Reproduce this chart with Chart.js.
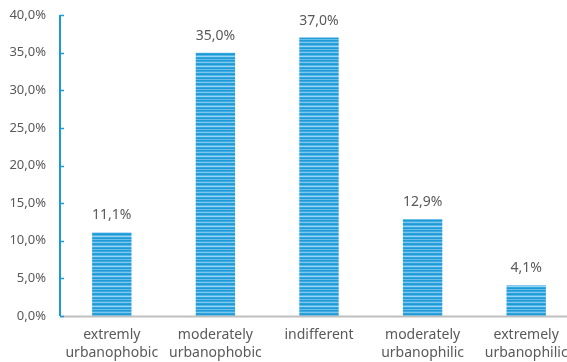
<!DOCTYPE html>
<html>
<head>
<meta charset="utf-8">
<script src="https://cdn.jsdelivr.net/npm/chart.js@4/dist/chart.umd.min.js"></script>
<style>
  html, body { margin: 0; padding: 0; background: #fff; overflow: hidden; }
  #wrap { width: 578px; height: 362px; position: relative; }
</style>
</head>
<body>
<div id="wrap"><canvas id="c"></canvas></div>
<script>
const categories = [
  ["extremly", "urbanophobic"],
  ["moderately", "urbanophobic"],
  ["indifferent"],
  ["moderately", "urbanophilic"],
  ["extremely", "urbanophilic"],
];
const shares = [11.1, 35.0, 37.0, 12.9, 4.1];
const yTicks = [0, 5, 10, 15, 20, 25, 30, 35, 40];

const fmtPct = (v) => v.toFixed(1).replace(".", ",") + "%";

// striped fill like the original
function stripes() {
  const rows = ["#1e9bd7", "#3eace3", "#7ec6ec", "#2aa3de", "#1e9bd7", "#56b7e7", "#9ad3f1", "#33a8e1", "#1e9bd7", "#6bbfea"];
  const cv = document.createElement("canvas");
  cv.width = 4;
  cv.height = rows.length;
  const g = cv.getContext("2d");
  rows.forEach((c, i) => { g.fillStyle = c; g.fillRect(0, i, 4, 1); });
  return g.createPattern(cv, "repeat");
}

const axisDecor = {
  id: "axisDecor",
  afterDatasetsDraw(chart) {
    const { ctx, chartArea: a, scales } = chart;
    const y = scales.y;
    ctx.save();
    // x axis line
    ctx.strokeStyle = "#bfbfbf";
    ctx.lineWidth = 2;
    ctx.beginPath();
    ctx.moveTo(a.left, a.bottom + 0.5);
    ctx.lineTo(chart.width, a.bottom + 0.5);
    ctx.stroke();
    // y axis line + inner ticks
    ctx.strokeStyle = "#1a9ad6";
    ctx.lineWidth = 2;
    ctx.beginPath();
    ctx.moveTo(a.left, a.top);
    ctx.lineTo(a.left, a.bottom);
    ctx.stroke();
    ctx.lineWidth = 1.5;
    yTicks.forEach((t) => {
      const py = Math.round(y.getPixelForValue(t)) + 0.5;
      ctx.beginPath();
      ctx.moveTo(a.left, py);
      ctx.lineTo(a.left + 4, py);
      ctx.stroke();
    });
    // value labels
    const meta = chart.getDatasetMeta(0);
    ctx.fillStyle = "#595959";
    ctx.font = "14px 'Noto Sans', sans-serif";
    ctx.textAlign = "center";
    ctx.textBaseline = "middle";
    meta.data.forEach((bar, i) => {
      ctx.fillText(fmtPct(shares[i]), bar.x, bar.y - 17);
    });
    ctx.restore();
  },
};

new Chart(document.getElementById("c"), {
  type: "bar",
  data: {
    labels: categories,
    datasets: [{
      data: shares,
      backgroundColor: stripes(),
      borderWidth: 0,
      barPercentage: 0.38,
      categoryPercentage: 1,
    }],
  },
  options: {
    responsive: true,
    maintainAspectRatio: false,
    animation: false,
    layout: { padding: { top: 15, left: 0, right: 0, bottom: 0 } },
    scales: {
      x: {
        grid: { display: false, drawTicks: false },
        border: { display: false },
        ticks: { color: "#595959", font: { family: "'Noto Sans', sans-serif", size: 14, lineHeight: 1.3 }, padding: 10, maxRotation: 0, autoSkip: false },
        afterFit: (s) => { s.height = 46; s.paddingLeft = 0; s.paddingRight = 0; },
      },
      y: {
        min: 0,
        max: 40,
        grid: { display: false, drawTicks: false },
        border: { display: false },
        ticks: {
          stepSize: 5,
          padding: 14,
          color: "#595959",
          font: { family: "'Noto Sans', sans-serif", size: 13 },
          callback: (v) => fmtPct(v),
        },
        afterFit: (s) => { s.width = 60; s.paddingTop = 0; s.paddingBottom = 0; },
      },
    },
    plugins: { legend: { display: false }, tooltip: { enabled: false } },
  },
  plugins: [axisDecor],
});
</script>
</body>
</html>
